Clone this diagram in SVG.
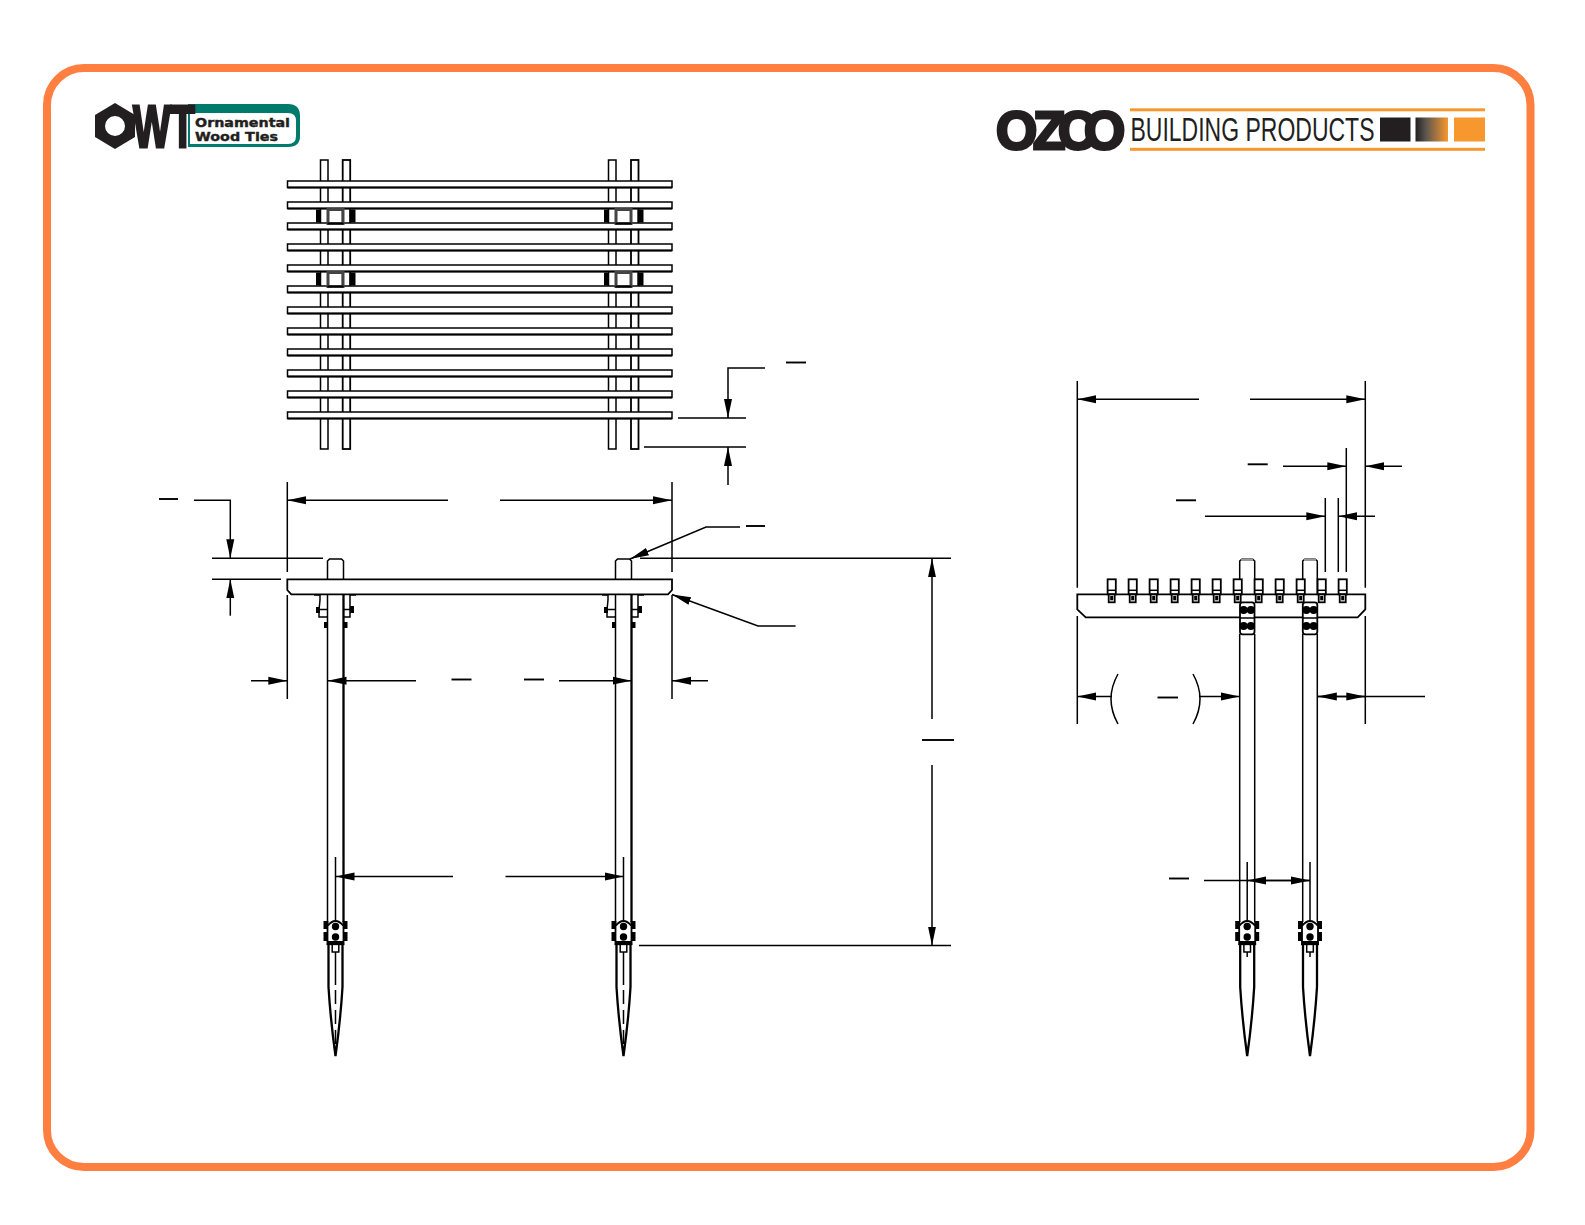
<svg xmlns="http://www.w3.org/2000/svg" xmlns:xlink="http://www.w3.org/1999/xlink" width="1585" height="1225" viewBox="0 0 1585 1225">
<style>
.o{fill:none;stroke:#000;stroke-width:1.5}
.w{fill:#fff;stroke:#000;stroke-width:1.8}
.t{fill:none;stroke:#000;stroke-width:2.3}
.d{fill:none;stroke:#000;stroke-width:1.5}
.k{fill:#000;stroke:none}
.b{stroke:#000;stroke-width:1.9}
.ar{fill:none;stroke:#000;stroke-width:1.5;marker-end:url(#a)}
</style>
<defs>
<marker id="a" markerUnits="userSpaceOnUse" markerWidth="20" markerHeight="9" refX="19" refY="4.500" orient="auto"><path d="M0,.5L19,4.500L0,8.500z" fill="#000"/></marker>
<linearGradient id="g"><stop offset="0" stop-color="#231f20"/><stop offset=".3" stop-color="#58534f"/><stop offset="1" stop-color="#f7982f"/></linearGradient>
<g id="rail"><rect class="w" x="287.500" y="0" width="384.500" height="6.500" style="stroke-width:1.5"/><path d="M287.500,6.500H672" stroke="#000" stroke-width="2"/></g>
<g id="clamp">
<rect class="k" x="-19.500" y="0" width="5" height="13"/><rect class="k" x="14" y="0" width="6" height="13"/>
<rect x="-7.500" y="0" width="15" height="14" fill="none" stroke="#444" stroke-width="3"/>
<path d="M-8,14H8" stroke="#000" stroke-width="1.800"/>
</g>
<g id="foot">
<path class="t" d="M-7,25V67Q-5,100 0,136Q5,100 7,67V25"/>
<rect class="k" x="-12" y="1" width="5" height="8"/><rect class="k" x="-12" y="12" width="5" height="9"/>
<rect class="k" x="7" y="1" width="5" height="8"/><rect class="k" x="7" y="12" width="5" height="9"/>
<path class="w" d="M-8,22V6Q0,-4 8,6V22z"/>
<path class="t" d="M-9,24H9"/>
<circle class="k" cx="0" cy="6.500" r="3.700"/><circle class="k" cx="0" cy="17" r="3.700"/>
<rect class="o" x="-3.300" y="24" width="6.600" height="8" fill="#fff"/>
</g>
<g id="cap"><rect class="w" x="-4.100" y="0" width="8.200" height="15"/><path class="o" d="M-4.100,11H4.100"/><rect class="w" x="-3" y="15" width="6" height="8"/><rect class="k" x="-1.500" y="16.500" width="3" height="4.500"/></g>
<g id="pair"><circle class="k" cx="-3.600" cy="0" r="4"/><circle class="k" cx="3.600" cy="0" r="4"/></g>
</defs>

<g id="frame"><rect x="47" y="68" width="1483.500" height="1099" rx="37" fill="none" stroke="#ff7f41" stroke-width="8"/></g>

<g id="logo-owt">
<path d="M115,103L135,115V137L115,149L95,137V115z" fill="#231f20"/><circle cx="115" cy="126" r="10" fill="#fff"/>
<path d="M188,104H288Q300,104 300,116V136Q300,147 288,147H188z" fill="#007a6c"/>
<path d="M190,113H288Q296,113 296,121V136Q296,144 288,144H190z" fill="#fff"/>
<text transform="translate(133,146.500) scale(.675,1)" font-family="Liberation Sans, sans-serif" font-weight="700" font-size="59" fill="#231f20" stroke="#231f20" stroke-width="2.800">WT</text>
<text x="195" y="126.500" font-family="DejaVu Sans, sans-serif" font-weight="700" font-size="12.800" textLength="95" lengthAdjust="spacingAndGlyphs" fill="#231f20" stroke="#231f20" stroke-width=".4">Ornamental</text>
<text x="195" y="140.500" font-family="DejaVu Sans, sans-serif" font-weight="700" font-size="12.800" textLength="83" lengthAdjust="spacingAndGlyphs" fill="#231f20" stroke="#231f20" stroke-width=".4">Wood Ties</text>
</g>

<g id="logo-ozco">
<text x="996 1033 1058 1084" y="148.500" font-family="Liberation Sans, sans-serif" font-weight="700" font-size="53" fill="#231f20" stroke="#231f20" stroke-width="3">OZCO</text>
<rect x="1130" y="108.300" width="355" height="3" fill="#f7982f"/><rect x="1130" y="147.800" width="355" height="3" fill="#f7982f"/>
<text x="1130.500" y="141" font-family="Liberation Sans, sans-serif" font-size="32.500" textLength="244" lengthAdjust="spacingAndGlyphs" fill="#231f20">BUILDING PRODUCTS</text>
<rect x="1380" y="117.500" width="30.500" height="24" fill="#231f20"/><rect x="1415.500" y="117.500" width="32.500" height="24" fill="url(#g)"/><rect x="1454" y="117.500" width="31" height="24" fill="#f7982f"/>
</g>

<g id="plan-view">
<g id="plan-posts">
<rect class="o" x="320.500" y="160" width="7.500" height="289"/><rect class="t" x="342.700" y="160" width="7.500" height="289" style="stroke-width:1.8"/>
<rect class="o" x="608.500" y="160" width="7.500" height="289"/><rect class="t" x="631" y="160" width="7.500" height="289" style="stroke-width:1.8"/>
</g>
<g id="plan-rails">
<use xlink:href="#rail" y="181"/><use xlink:href="#rail" y="202"/><use xlink:href="#rail" y="223"/><use xlink:href="#rail" y="244"/><use xlink:href="#rail" y="265"/><use xlink:href="#rail" y="286"/><use xlink:href="#rail" y="307"/><use xlink:href="#rail" y="328"/><use xlink:href="#rail" y="349"/><use xlink:href="#rail" y="370"/><use xlink:href="#rail" y="391"/><use xlink:href="#rail" y="412"/>
</g>
<g id="plan-clamps">
<use xlink:href="#clamp" x="335.500" y="209.500"/><use xlink:href="#clamp" x="335.500" y="272.500"/><use xlink:href="#clamp" x="623.500" y="209.500"/><use xlink:href="#clamp" x="623.500" y="272.500"/>
</g>
</g>

<g id="front-view">
<g id="front-left-post">
<path class="o" d="M327.500,579V561L329.500,559H341.500L343.500,561V579"/>
<path class="o" d="M327.500,594V922M335.500,857V922"/><path class="t" d="M343.500,579V594M343.500,594V922"/>
<path class="o" d="M314,595H320V600L319,610V617H327M356,595H350V617H343M320,609.500H327M343,609.500H350"/>
<rect class="k" x="316" y="607" width="4" height="6"/><rect class="k" x="350" y="606" width="4" height="7"/><rect class="k" x="324" y="622" width="3.500" height="6"/><rect class="k" x="343.500" y="622" width="4" height="6"/>
<use xlink:href="#foot" x="335.500" y="920"/>
<path class="o" d="M335.500,952V985M335.500,990V1004M335.500,1010V1024M335.500,1030V1044"/>
</g>
<g id="front-right-post">
<path class="o" d="M615.500,579V561L617.500,559H629.500L631.500,561V579"/>
<path class="o" d="M615.500,594V922M623.500,857V922"/><path class="t" d="M631.500,579V594M631.500,594V922"/>
<path class="o" d="M602,595H608V600L607,610V617H615M644,595H638V617H631M608,609.500H615M631,609.500H638"/>
<rect class="k" x="604" y="607" width="4" height="6"/><rect class="k" x="638" y="606" width="4" height="7"/><rect class="k" x="612" y="622" width="3.500" height="6"/><rect class="k" x="631.500" y="622" width="4" height="6"/>
<use xlink:href="#foot" x="623.500" y="920"/>
<path class="o" d="M623.500,952V985M623.500,990V1004M623.500,1010V1024M623.500,1030V1044"/>
</g>
<path id="front-rail" class="w" d="M287.300,579.300H672V590L668,594.300H291.300L287.300,590z"/>
</g>

<g id="side-view">
<g id="side-post-1">
<path class="o" d="M1239.700,594V561L1241.700,559.300H1252.700L1254.700,561V594"/><path d="M1241,560H1253" stroke="#999" stroke-width="2"/>
<path class="o" d="M1239.700,634V922M1254.700,634V922M1247.200,862V922"/>
<use xlink:href="#foot" x="1247.200" y="920"/>
<path class="o" d="M1247.200,952V957"/>
</g>
<g id="side-post-2">
<path class="o" d="M1302.700,594V561L1304.700,559.300H1315.300L1317.300,561V594"/><path d="M1304,560H1316" stroke="#999" stroke-width="2"/>
<path class="o" d="M1302.700,634V922M1317.300,634V922M1310,862V922"/>
<use xlink:href="#foot" x="1310" y="920"/>
<path class="o" d="M1310,952V957"/>
</g>
<path id="side-rail" class="w" d="M1077.300,594.300H1365.300V609.300L1357.700,617.300H1085.700L1077.300,609.300z"/>
<g id="side-caps">
<use xlink:href="#cap" x="1111.700" y="579.300"/><use xlink:href="#cap" x="1132.700" y="579.300"/><use xlink:href="#cap" x="1153.700" y="579.300"/><use xlink:href="#cap" x="1174.700" y="579.300"/><use xlink:href="#cap" x="1195.700" y="579.300"/><use xlink:href="#cap" x="1216.700" y="579.300"/><use xlink:href="#cap" x="1237.700" y="579.300"/><use xlink:href="#cap" x="1258.700" y="579.300"/><use xlink:href="#cap" x="1279.700" y="579.300"/><use xlink:href="#cap" x="1300.700" y="579.300"/><use xlink:href="#cap" x="1321.700" y="579.300"/><use xlink:href="#cap" x="1342.700" y="579.300"/>
</g>
<g id="side-brackets">
<rect class="w" x="1240" y="602.300" width="14.500" height="32" rx="2.500"/><path class="o" d="M1240,618H1254.500"/><use xlink:href="#pair" x="1247.200" y="610"/><use xlink:href="#pair" x="1247.200" y="626"/>
<rect class="w" x="1302.800" y="602.300" width="14.500" height="32" rx="2.500"/><path class="o" d="M1302.800,618H1317.300"/><use xlink:href="#pair" x="1310" y="610"/><use xlink:href="#pair" x="1310" y="626"/>
</g>
</g>

<g id="connectors">
<line class="b" x1="786" y1="362.500" x2="806" y2="362.500"/>
<path class="ar" d="M765,368H728V418"/>
<path class="d" d="M678,418H746M644,447H746"/>
<line class="ar" x1="728" y1="485" x2="728" y2="447"/>
<path class="d" d="M287.300,482V572M287.300,595V699M672,482V572M672,595V699"/>
<line class="ar" x1="448" y1="500.300" x2="287.300" y2="500.300"/>
<line class="ar" x1="500" y1="500.300" x2="672" y2="500.300"/>
<line class="b" x1="159" y1="499" x2="178" y2="499"/>
<path class="ar" d="M194,500.300H230.300V558.300"/>
<path class="d" d="M212,558.300H323M212,579.300H281"/>
<line class="ar" x1="230.300" y1="615.700" x2="230.300" y2="579.300"/>
<line class="b" x1="746" y1="526" x2="765" y2="526"/>
<path class="ar" d="M740,527H706L630,559"/>
<path class="ar" d="M795.600,626H758L672,594.500"/>
<line class="ar" x1="251" y1="680.700" x2="287.300" y2="680.700"/>
<line class="ar" x1="416" y1="680.700" x2="327.500" y2="680.700"/>
<line class="b" x1="451.500" y1="679.500" x2="471.500" y2="679.500"/>
<line class="b" x1="524" y1="679.500" x2="544" y2="679.500"/>
<line class="ar" x1="559" y1="680.700" x2="631.500" y2="680.700"/>
<line class="ar" x1="708" y1="680.700" x2="672" y2="680.700"/>
<line class="ar" x1="453" y1="876.500" x2="335.500" y2="876.500"/>
<line class="ar" x1="505.500" y1="876.500" x2="623.500" y2="876.500"/>
<path class="d" d="M640,558.300H951M639,945.500H951"/>
<line class="ar" x1="932" y1="719" x2="932" y2="558.300"/>
<line class="b" x1="922" y1="740" x2="954" y2="740"/>
<line class="ar" x1="932" y1="765" x2="932" y2="945.500"/>
<path class="d" d="M1077.300,381V587.700M1077.300,616V724M1365.300,381V587.700M1365.300,616V724"/>
<line class="ar" x1="1199" y1="399.300" x2="1077.300" y2="399.300"/>
<line class="ar" x1="1250" y1="399.300" x2="1365.300" y2="399.300"/>
<path class="d" d="M1346.300,448V572M1325.300,498V572M1338.300,498V572"/>
<line class="b" x1="1247.700" y1="464.300" x2="1267.700" y2="464.300"/>
<line class="ar" x1="1283" y1="466.300" x2="1346.300" y2="466.300"/>
<line class="ar" x1="1402" y1="466.300" x2="1365.300" y2="466.300"/>
<line class="b" x1="1176" y1="500.300" x2="1196" y2="500.300"/>
<line class="ar" x1="1205" y1="516.300" x2="1325.300" y2="516.300"/>
<line class="ar" x1="1375" y1="516.300" x2="1338.300" y2="516.300"/>
<line class="ar" x1="1112" y1="696.500" x2="1077.300" y2="696.500"/>
<path class="d" d="M1118,674Q1104,699 1118,724M1193,674Q1207,699 1193,724"/>
<line class="b" x1="1157.500" y1="697.500" x2="1178" y2="697.500"/>
<line class="ar" x1="1199" y1="696.500" x2="1239.700" y2="696.500"/>
<line class="ar" x1="1365.300" y1="696.500" x2="1317.800" y2="696.500"/>
<line class="ar" x1="1317.800" y1="696.500" x2="1365.300" y2="696.500"/>
<line class="d" x1="1365.300" y1="696.500" x2="1425" y2="696.500"/>
<line class="b" x1="1169" y1="878.500" x2="1189" y2="878.500"/>
<line class="ar" x1="1310" y1="880.500" x2="1247.200" y2="880.500"/>
<line class="ar" x1="1204" y1="880.500" x2="1310" y2="880.500"/>
</g>
</svg>
